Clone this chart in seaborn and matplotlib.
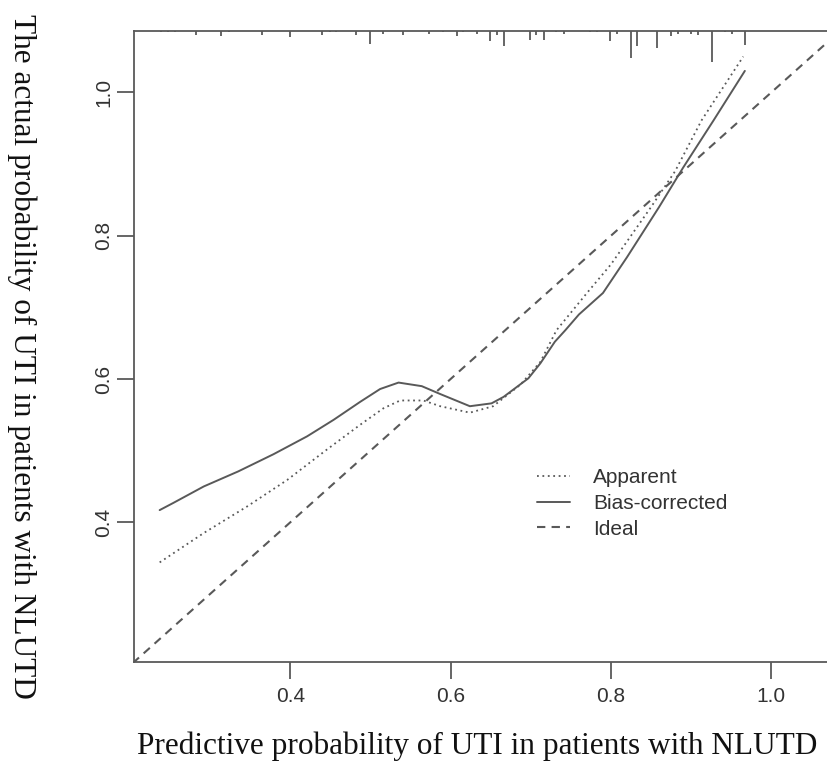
import matplotlib
matplotlib.use("Agg")
import matplotlib.pyplot as plt
import numpy as np
import pandas as pd
import seaborn as sns

# calibration curves
apparent_x = [0.237, 0.292, 0.346, 0.396, 0.445, 0.487, 0.516, 0.537, 0.566, 0.587,
              0.624, 0.653, 0.687, 0.712, 0.732, 0.770, 0.800, 0.850, 0.880, 0.913, 0.965]
apparent_y = [0.344, 0.385, 0.422, 0.459, 0.501, 0.536, 0.559, 0.570, 0.570, 0.562,
              0.553, 0.562, 0.592, 0.624, 0.668, 0.720, 0.760, 0.840, 0.890, 0.961, 1.050]

bias_x = [0.237, 0.254, 0.292, 0.335, 0.379, 0.421, 0.454, 0.487, 0.512, 0.535, 0.564,
          0.587, 0.624, 0.651, 0.666, 0.697, 0.712, 0.730, 0.743, 0.760, 0.790, 0.820,
          0.860, 0.890, 0.928, 0.967]
bias_y = [0.417, 0.427, 0.450, 0.471, 0.495, 0.520, 0.543, 0.568, 0.586, 0.595, 0.590,
          0.579, 0.562, 0.566, 0.575, 0.601, 0.622, 0.652, 0.668, 0.690, 0.720, 0.770,
          0.840, 0.895, 0.961, 1.030]

ideal = [0.0, 1.2]

# distribution of predicted risks (spikes at the top)
rug_x = [0.239, 0.247, 0.256, 0.282, 0.314, 0.323, 0.365, 0.399, 0.440, 0.449, 0.457,
         0.482, 0.499, 0.515, 0.540, 0.573, 0.591, 0.608, 0.616, 0.633, 0.649, 0.658,
         0.666, 0.699, 0.707, 0.716, 0.732, 0.741, 0.774, 0.782, 0.799, 0.808, 0.825,
         0.833, 0.858, 0.875, 0.883, 0.900, 0.908, 0.926, 0.942, 0.951, 0.967]
rug_n = [1, 1, 1, 3, 4, 1, 3, 5, 3, 1, 1,
         3, 10, 2, 3, 2, 1, 4, 1, 2, 8, 3,
         12, 7, 3, 7, 1, 2, 1, 1, 8, 2, 21,
         12, 13, 4, 2, 2, 3, 24, 1, 2, 11]

grey = "#595959"
sans = ["Liberation Sans", "DejaVu Sans"]
serif = ["Liberation Serif", "DejaVu Serif"]

sns.set_style("white")
plt.rcParams["font.family"] = sans

fig = plt.figure(figsize=(8.27, 7.69), dpi=100)
ax = fig.add_axes([134 / 827, 107 / 769, 706 / 827, 631 / 769])

sns.lineplot(x=apparent_x, y=apparent_y, ax=ax, color=grey, lw=1.3,
             linestyle=(0, (1, 2)), sort=False, label="Apparent")
sns.lineplot(x=bias_x, y=bias_y, ax=ax, color=grey, lw=1.4,
             linestyle="-", sort=False, label="Bias-corrected")
sns.lineplot(x=ideal, y=ideal, ax=ax, color=grey, lw=1.5,
             linestyle=(0, (4, 3)), sort=False, label="Ideal")

lim = (0.205, 1.0857)
ax.set_xlim(lim)
ax.set_ylim(lim)
ax.vlines(rug_x, lim[1] - np.array(rug_n) * 0.0018, lim[1], color=grey, lw=1.3)

for s in ["left", "bottom", "top"]:
    ax.spines[s].set_color(grey)
    ax.spines[s].set_linewidth(1.3)
ax.spines["right"].set_visible(False)

ticks = [0.4, 0.6, 0.8, 1.0]
ax.set_xticks(ticks)
ax.set_yticks(ticks)
ax.set_xticklabels([f"{t:.1f}" for t in ticks])
ax.set_yticklabels([f"{t:.1f}" for t in ticks], rotation=90, va="center")
ax.tick_params(axis="both", direction="out", length=12, width=1.3, color=grey,
               labelsize=15, labelcolor="#333333", bottom=True, left=True)
ax.tick_params(axis="x", pad=6)
ax.tick_params(axis="y", pad=3)

ax.set_xlabel("Predictive probability of UTI in patients with NLUTD",
              family=serif, fontsize=22.5, color="#111111", va="center")
ax.xaxis.set_label_coords(0.5 - 10 / 706, -84 / 631)
ax.set_ylabel("The actual probability of UTI in patients with NLUTD",
              family=serif, fontsize=22.5, color="#111111", rotation=270,
              va="center", ha="center")
ax.yaxis.set_label_coords(-112 / 706, 0.5 - 10 / 631)

ax.legend(loc="upper left", bbox_to_anchor=(537 / 827, 1 - 468 / 769),
          bbox_transform=fig.transFigure, frameon=False, fontsize=15,
          handlelength=1.6, handletextpad=1.1, labelspacing=0.33,
          borderpad=0, borderaxespad=0, labelcolor="#333333")

fig.savefig("out.png", dpi=100)
